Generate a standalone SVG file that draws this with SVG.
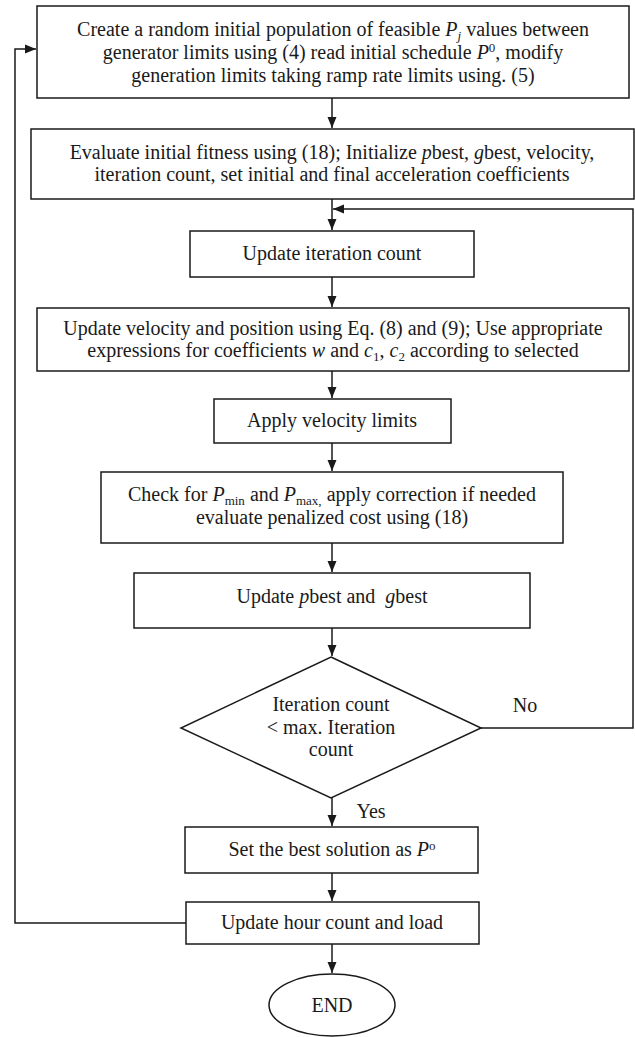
<svg xmlns="http://www.w3.org/2000/svg" width="635" height="1037" viewBox="0 0 635 1037">
<style>
  .box { fill: #ffffff; stroke: #1a1a1a; stroke-width: 1.5; }
  .t { font-family: "Liberation Serif", "Times New Roman", serif; font-size: 20px; fill: #1a1a1a; text-anchor: middle; }
  .i { font-style: italic; }
  .s { font-size: 13px; }
  .con { fill: none; stroke: #1a1a1a; stroke-width: 1.5; }
</style>
<defs>
  <marker id="ah" markerUnits="userSpaceOnUse" markerWidth="12" markerHeight="12" viewBox="0 0 12 12" refX="11" refY="6" orient="auto">
    <path d="M0,1.5 L11,6 L0,10.5 Z" fill="#1a1a1a"/>
  </marker>
</defs>
<rect width="635" height="1037" fill="#ffffff"/>

<g id="connectors">
  <path class="con" d="M332,98 V128" marker-end="url(#ah)"/>
  <path class="con" d="M332,199 V230" marker-end="url(#ah)"/>
  <path class="con" d="M481,728 H633 V209 H333" marker-end="url(#ah)"/>
  <path class="con" d="M332,277 V307" marker-end="url(#ah)"/>
  <path class="con" d="M332,371 V398" marker-end="url(#ah)"/>
  <path class="con" d="M332,443 V471" marker-end="url(#ah)"/>
  <path class="con" d="M332,543 V572" marker-end="url(#ah)"/>
  <path class="con" d="M332,628 V656" marker-end="url(#ah)"/>
  <path class="con" d="M332,798 V826" marker-end="url(#ah)"/>
  <path class="con" d="M332,873 V901" marker-end="url(#ah)"/>
  <path class="con" d="M332,944 V973" marker-end="url(#ah)"/>
  <path class="con" d="M186,923 H15 V49 H36" marker-end="url(#ah)"/>
  <text class="t" x="525" y="712">No</text>
  <text class="t" x="371" y="818">Yes</text>
</g>

<g id="n1">
  <rect class="box" x="37" y="6" width="592" height="92"/>
  <text class="t" x="333" y="36">Create a random initial population of feasible <tspan class="i">P</tspan><tspan class="i s" dy="4">j</tspan><tspan dy="-4"> values between</tspan></text>
  <text class="t" x="333" y="59">generator limits using (4) read initial schedule <tspan class="i">P</tspan><tspan class="s" dy="-7">0</tspan><tspan dy="7">, modify</tspan></text>
  <text class="t" x="333" y="82">generation limits taking ramp rate limits using. (5)</text>
</g>

<g id="n2">
  <rect class="box" x="31" y="129" width="603" height="70"/>
  <text class="t" x="332" y="159">Evaluate initial fitness using (18); Initialize <tspan class="i">p</tspan>best, <tspan class="i">g</tspan>best, velocity,</text>
  <text class="t" x="332" y="181">iteration count, set initial and final acceleration coefficients</text>
</g>

<g id="n3">
  <rect class="box" x="190" y="231" width="284" height="46"/>
  <text class="t" x="332" y="260">Update iteration count</text>
</g>

<g id="n4">
  <rect class="box" x="37" y="308" width="592" height="63"/>
  <text class="t" x="333" y="335">Update velocity and position using Eq. (8) and (9); Use appropriate</text>
  <text class="t" x="333" y="357">expressions for coefficients <tspan class="i">w</tspan> and <tspan class="i">c</tspan><tspan class="s" dy="4">1</tspan><tspan dy="-4">, </tspan><tspan class="i">c</tspan><tspan class="s" dy="4">2</tspan><tspan dy="-4"> according to selected</tspan></text>
</g>

<g id="n5">
  <rect class="box" x="214" y="399" width="237" height="44"/>
  <text class="t" x="332" y="427">Apply velocity limits</text>
</g>

<g id="n6">
  <rect class="box" x="101" y="472" width="462" height="71"/>
  <text class="t" x="332" y="501">Check for <tspan class="i">P</tspan><tspan class="s" dy="4">min</tspan><tspan dy="-4"> and </tspan><tspan class="i">P</tspan><tspan class="s" dy="4">max,</tspan><tspan dy="-4"> apply correction if needed</tspan></text>
  <text class="t" x="332" y="524">evaluate penalized cost using (18)</text>
</g>

<g id="n7">
  <rect class="box" x="134" y="573" width="396" height="55"/>
  <text class="t" x="332" y="603" xml:space="preserve">Update <tspan class="i">p</tspan>best and  <tspan class="i">g</tspan>best</text>
</g>

<g id="n8">
  <path class="box" d="M331,657 L481,728 L331,798 L181,728 Z"/>
  <text class="t" x="331" y="711">Iteration count</text>
  <text class="t" x="331" y="734">&lt; max. Iteration</text>
  <text class="t" x="331" y="756">count</text>
</g>

<g id="n9">
  <rect class="box" x="185" y="827" width="293" height="46"/>
  <text class="t" x="332" y="856">Set the best solution as <tspan class="i">P</tspan><tspan class="s" dy="-6">o</tspan></text>
</g>

<g id="n10">
  <rect class="box" x="186" y="902" width="293" height="42"/>
  <text class="t" x="332" y="929">Update hour count and load</text>
</g>

<g id="n11">
  <ellipse class="box" cx="332" cy="1005" rx="63" ry="31"/>
  <text class="t" x="332" y="1012">END</text>
</g>
</svg>
